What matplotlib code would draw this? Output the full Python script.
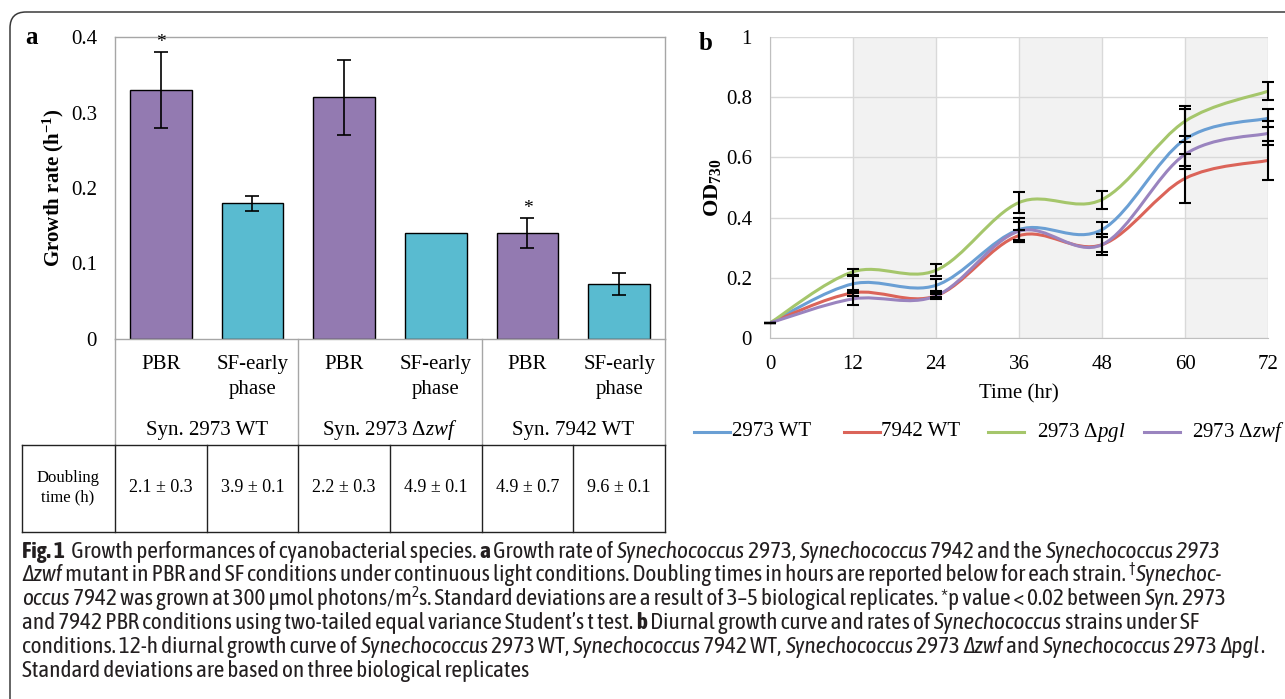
import numpy as np
import matplotlib
matplotlib.use('Agg')
import matplotlib.pyplot as plt
import matplotlib.transforms as mtransforms
from matplotlib.path import Path
from matplotlib.patches import PathPatch, FancyBboxPatch
from matplotlib.lines import Line2D
from matplotlib.font_manager import FontProperties
from matplotlib import font_manager as fm
from matplotlib.ft2font import FT2Font

# panel a: growth rates
strains = ['Syn. 2973 WT', 'Syn. 2973 Δ$\\mathit{zwf}$', 'Syn. 7942 WT']
conditions = ['PBR', 'SF-early\nphase']
growth_rate = [0.33, 0.18, 0.32, 0.14, 0.14, 0.073]
growth_err = [0.05, 0.01, 0.05, 0.0, 0.02, 0.015]
significant = [True, False, False, False, True, False]
doubling_time = ['2.1 ± 0.3', '3.9 ± 0.1', '2.2 ± 0.3', '4.9 ± 0.1', '4.9 ± 0.7', '9.6 ± 0.1']

# panel b: diurnal growth curves
time_hr = [0, 12, 24, 36, 48, 60, 72]
dark_periods = [(12, 24), (36, 48), (60, 72)]
od_wt2973 = [0.05, 0.18, 0.175, 0.36, 0.36, 0.66, 0.73]
od_wt7942 = [0.05, 0.15, 0.14, 0.34, 0.31, 0.53, 0.59]
od_pgl = [0.05, 0.22, 0.225, 0.45, 0.46, 0.72, 0.82]
od_zwf = [0.05, 0.13, 0.14, 0.355, 0.31, 0.61, 0.68]
err_wt2973 = [0, 0.025, 0.02, 0.04, 0.025, 0.1, 0.03]
err_wt7942 = [0, 0.01, 0.005, 0.02, 0.035, 0.08, 0.065]
err_pgl = [0, 0.01, 0.02, 0.035, 0.03, 0.05, 0.03]
err_zwf = [0, 0.02, 0.01, 0.03, 0.025, 0.04, 0.04]
series_labels = ['2973 WT', '7942 WT', '2973 Δ$\\mathit{pgl}$', '2973 Δ$\\mathit{zwf}$']

plt.rcParams['font.family'] = ['Liberation Serif', 'DejaVu Serif']
plt.rcParams['mathtext.fontset'] = 'custom'
plt.rcParams['mathtext.rm'] = 'Liberation Serif'
plt.rcParams['mathtext.it'] = 'Liberation Serif:italic'
plt.rcParams['mathtext.bf'] = 'Liberation Serif:bold'

W, H = 1285, 699
fig = plt.figure(figsize=(W / 100, H / 100), dpi=100)
# pixel coordinates, origin top-left
px = mtransforms.Affine2D().scale(1 / W, -1 / H).translate(0, 1) + fig.transFigure

# outer frame
frame = FancyBboxPatch((10, 12), 1400, 800, boxstyle='round,pad=0,rounding_size=16',
                       transform=px, fill=False, edgecolor='#3a3a3a', lw=1.1)
fig.add_artist(frame)

# ---------------- panel a ----------------
axa = fig.add_axes([115 / W, 1 - 339 / H, 550 / W, 302 / H])
x = np.arange(len(growth_rate))
colors = ['#937AB1', '#59BBD0'] * 3
axa.bar(x, growth_rate, width=0.67, color=colors, edgecolor='black', lw=1, zorder=2)
for i in range(len(x)):
    if growth_err[i] > 0:
        axa.errorbar(x[i], growth_rate[i], yerr=growth_err[i], fmt='none', ecolor='black',
                     elinewidth=1.2, capsize=5, capthick=1.2, zorder=3)
    if significant[i]:
        axa.text(x[i], growth_rate[i] + growth_err[i] + 0.002, '*', ha='center', va='bottom',
                 fontsize=14)
axa.set_xlim(-0.5, 5.5)
axa.set_ylim(0, 0.4)
axa.set_yticks([0, 0.1, 0.2, 0.3, 0.4])
axa.set_yticklabels(['0', '0.1', '0.2', '0.3', '0.4'])
axa.set_xticks([])
axa.tick_params(axis='y', length=0, pad=13, labelsize=15)
for s in axa.spines.values():
    s.set_color('#A6A6A6')
    s.set_linewidth(1)
axa.set_ylabel('Growth rate (h$^{\\mathbf{-1}}$)', fontsize=15, fontweight='bold')
axa.yaxis.set_label_coords(-0.09, 0.5)
fig.text(32, 38, 'a', transform=px, fontsize=18, fontweight='bold', ha='center', va='center')

# category labels, group labels and table
tr = mtransforms.blended_transform_factory(axa.transData, px)
for i in range(len(x)):
    axa.text(x[i], 355, conditions[i % 2], transform=tr, ha='center', va='top',
             fontsize=15, linespacing=1.42)
for g in range(3):
    axa.text(2 * g + 0.5, 430, strains[g], transform=tr, ha='center', va='center', fontsize=15)
for b in [-0.5, 1.5, 3.5, 5.5]:
    axa.plot([b, b], [339, 445], transform=tr, color='#A6A6A6', lw=1, clip_on=False)
for b in np.arange(-0.5, 6, 1):
    axa.plot([b, b], [445, 532], transform=tr, color='#222222', lw=1, clip_on=False)
fig.add_artist(Line2D([22, 665], [445, 445], transform=px, color='#222222', lw=1))
fig.add_artist(Line2D([22, 665], [532, 532], transform=px, color='#222222', lw=1))
fig.add_artist(Line2D([22, 22], [445, 532], transform=px, color='#222222', lw=1))
fig.text(68, 488, 'Doubling\ntime (h)', transform=px, ha='center', va='center', fontsize=12,
         linespacing=1.25)
for i in range(len(x)):
    axa.text(x[i], 488, doubling_time[i], transform=tr, ha='center', va='center', fontsize=13)

# ---------------- panel b ----------------
axb = fig.add_axes([770 / W, 1 - 338 / H, 498 / W, 301 / H])
for a, b in dark_periods:
    axb.axvspan(a, b, color='#F2F2F2', zorder=0, lw=0)
axb.set_axisbelow(True)
axb.grid(True, color='#D9D9D9', lw=1)
axb.set_xlim(0, 72)
axb.set_ylim(0, 1)
axb.set_xticks(time_hr)
axb.set_yticks([0, 0.2, 0.4, 0.6, 0.8, 1.0])
axb.set_yticklabels(['0', '0.2', '0.4', '0.6', '0.8', '1'])
axb.tick_params(length=0, labelsize=15)
axb.tick_params(axis='y', pad=13)
axb.tick_params(axis='x', pad=12)
axb.spines['top'].set_visible(False)
axb.spines['right'].set_visible(False)
axb.spines['left'].set_color('#BFBFBF')
axb.spines['bottom'].set_color('#BFBFBF')
axb.set_xlabel('Time (hr)', fontsize=15)
axb.xaxis.set_label_coords(0.5, -0.155)
axb.set_ylabel('$\\mathbf{OD}_{\\mathbf{730}}$', fontsize=16)
axb.yaxis.set_label_coords(-0.095, 0.5)
fig.text(706, 44, 'b', transform=px, fontsize=18, fontweight='bold', ha='center', va='center')


def smooth_path(xs, ys):
    # Catmull-Rom tangents turned into cubic Bezier segments (Excel-like smoothed line)
    pts = np.column_stack([xs, ys]).astype(float)
    n = len(pts)
    tang = np.zeros_like(pts)
    for k in range(n):
        lo = pts[max(k - 1, 0)]
        hi = pts[min(k + 1, n - 1)]
        tang[k] = (hi - lo) / 2
    verts = [pts[0]]
    codes = [Path.MOVETO]
    for k in range(n - 1):
        verts += [pts[k] + tang[k] / 3, pts[k + 1] - tang[k + 1] / 3, pts[k + 1]]
        codes += [Path.CURVE4] * 3
    return Path(verts, codes)


line_colors = ['#6A9FD4', '#DB6459', '#A5C66B', '#9A84BF']
all_od = [od_wt2973, od_wt7942, od_pgl, od_zwf]
all_err = [err_wt2973, err_wt7942, err_pgl, err_zwf]
for od, col in zip(all_od, line_colors):
    axb.add_patch(PathPatch(smooth_path(time_hr, od), fill=False, edgecolor=col, lw=2.2,
                            zorder=3))
for od, err in zip(all_od, all_err):
    axb.errorbar(time_hr, od, yerr=err, fmt='none', ecolor='black', elinewidth=1.5,
                 capsize=4, capthick=1.5, zorder=4, clip_on=False)

# legend below panel b (handle start, handle end, text start) in pixels
leg_pos = [(694, 730, 732), (844, 880, 881), (988, 1024, 1037), (1144, 1180, 1192)]
for (h0, h1, t0), lab, col in zip(leg_pos, series_labels, line_colors):
    fig.add_artist(Line2D([h0, h1], [432, 432], transform=px, color=col, lw=2.2))
    fig.text(t0, 432, lab, transform=px, ha='left', va='center', fontsize=15)

# ---------------- caption ----------------
# look for a condensed sans family that has bold, italic and the Δ glyph
def is_bold(f):
    w = f.weight
    if isinstance(w, str):
        return w in ('bold', 'semibold', 'demibold', 'demi', 'heavy', 'black', 'extra bold')
    return w >= 600


fams = {}
for f in fm.fontManager.ttflist:
    cond = ('Narrow' in f.name or 'Condensed' in f.name
            or f.stretch in ('condensed', 'semi-condensed', 'extra-condensed'))
    if not cond or 'Mono' in f.name or 'Serif' in f.name:
        continue
    d = fams.setdefault(f.name, {'bold': False, 'italic': False, 'delta': False})
    d['bold'] |= is_bold(f)
    d['italic'] |= f.style in ('italic', 'oblique')
    try:
        if not is_bold(f) and f.style == 'normal':
            d['delta'] |= 0x394 in FT2Font(f.fname).get_charmap()
    except Exception:
        pass

cap_family = 'Liberation Sans'
cap_stretch = 'normal'
if fams:
    best = max(sorted(fams), key=lambda n: (fams[n]['bold'] + fams[n]['italic'] + fams[n]['delta']))
    cap_family = best
    cap_stretch = 'condensed'
bold_family = cap_family if (cap_family in fams and fams[cap_family]['bold']) or not fams \
    else 'Open Sans'

caption = [
    [('Fig. 1', 'b'), ('  Growth performances of cyanobacterial species. ', 'n'), ('a', 'b'),
     (' Growth rate of ', 'n'), ('Synechococcus', 'i'), (' 2973, ', 'n'), ('Synechococcus', 'i'),
     (' 7942 and the ', 'n'), ('Synechococcus 2973', 'i')],
    [('Δzwf', 'i'), (' mutant in PBR and SF conditions under continuous light conditions. '
                     'Doubling times in hours are reported below for each strain. ', 'n'),
     ('†', 's'), ('Synechoc-', 'i')],
    [('occus', 'i'), (' 7942 was grown at 300 µmol photons/m', 'n'), ('2', 's'),
     ('s. Standard deviations are a result of 3–5 biological replicates. *p value < 0.02 between ',
      'n'), ('Syn.', 'i'), (' 2973', 'n')],
    [('and 7942 PBR conditions using two-tailed equal variance Student’s t test. ', 'n'),
     ('b', 'b'), (' Diurnal growth curve and rates of ', 'n'), ('Synechococcus', 'i'),
     (' strains under SF', 'n')],
    [('conditions. 12-h diurnal growth curve of ', 'n'), ('Synechococcus', 'i'), (' 2973 WT, ', 'n'),
     ('Synechococcus', 'i'), (' 7942 WT, ', 'n'), ('Synechococcus', 'i'), (' 2973 ', 'n'),
     ('Δzwf', 'i'), (' and ', 'n'), ('Synechococcus', 'i'), (' 2973 ', 'n'), ('Δpgl', 'i'),
     ('.', 'n')],
    [('Standard deviations are based on three biological replicates', 'n')],
]
cap_y = [552, 575, 599, 623, 647, 671]
cap_widths = [1212, 1226, 1222, 1196, 1240]

renderer = fig.canvas.get_renderer()


def fprop(style, size):
    kw = dict(family=[cap_family, 'Liberation Sans', 'DejaVu Sans'], stretch=cap_stretch, size=size)
    if style == 'b':
        kw['weight'] = 'bold'
        kw['family'] = [bold_family, 'Liberation Sans', 'DejaVu Sans']
    elif style == 'i':
        kw['style'] = 'italic'
    elif style == 's':
        kw['size'] = size * 0.65
    return FontProperties(**kw)


def seg_width(s, fp):
    w1 = renderer.get_text_width_height_descent(s + '|', fp, ismath=False)[0]
    w2 = renderer.get_text_width_height_descent('|', fp, ismath=False)[0]
    return w1 - w2


def line_width(parts, size):
    return sum(seg_width(t, fprop(s, size)) for t, s in parts)


# fit the font size to the reference line lengths, never running past the frame
base = 12.5
nat = [line_width(caption[k], base) for k in range(5)]
cap_fs = base * sum(cap_widths) / sum(nat)
cap_fs = min(cap_fs, base * 1240 / max(nat))

for parts, y in zip(caption, cap_y):
    xc = 22
    for txt, st in parts:
        fp = fprop(st, cap_fs)
        yy = y - 6 if st == 's' else y
        fig.text(xc, yy, txt, transform=px, fontproperties=fp, ha='left', va='center',
                 color='#231F20')
        xc += seg_width(txt, fp)

fig.savefig('out.png', dpi=100)
